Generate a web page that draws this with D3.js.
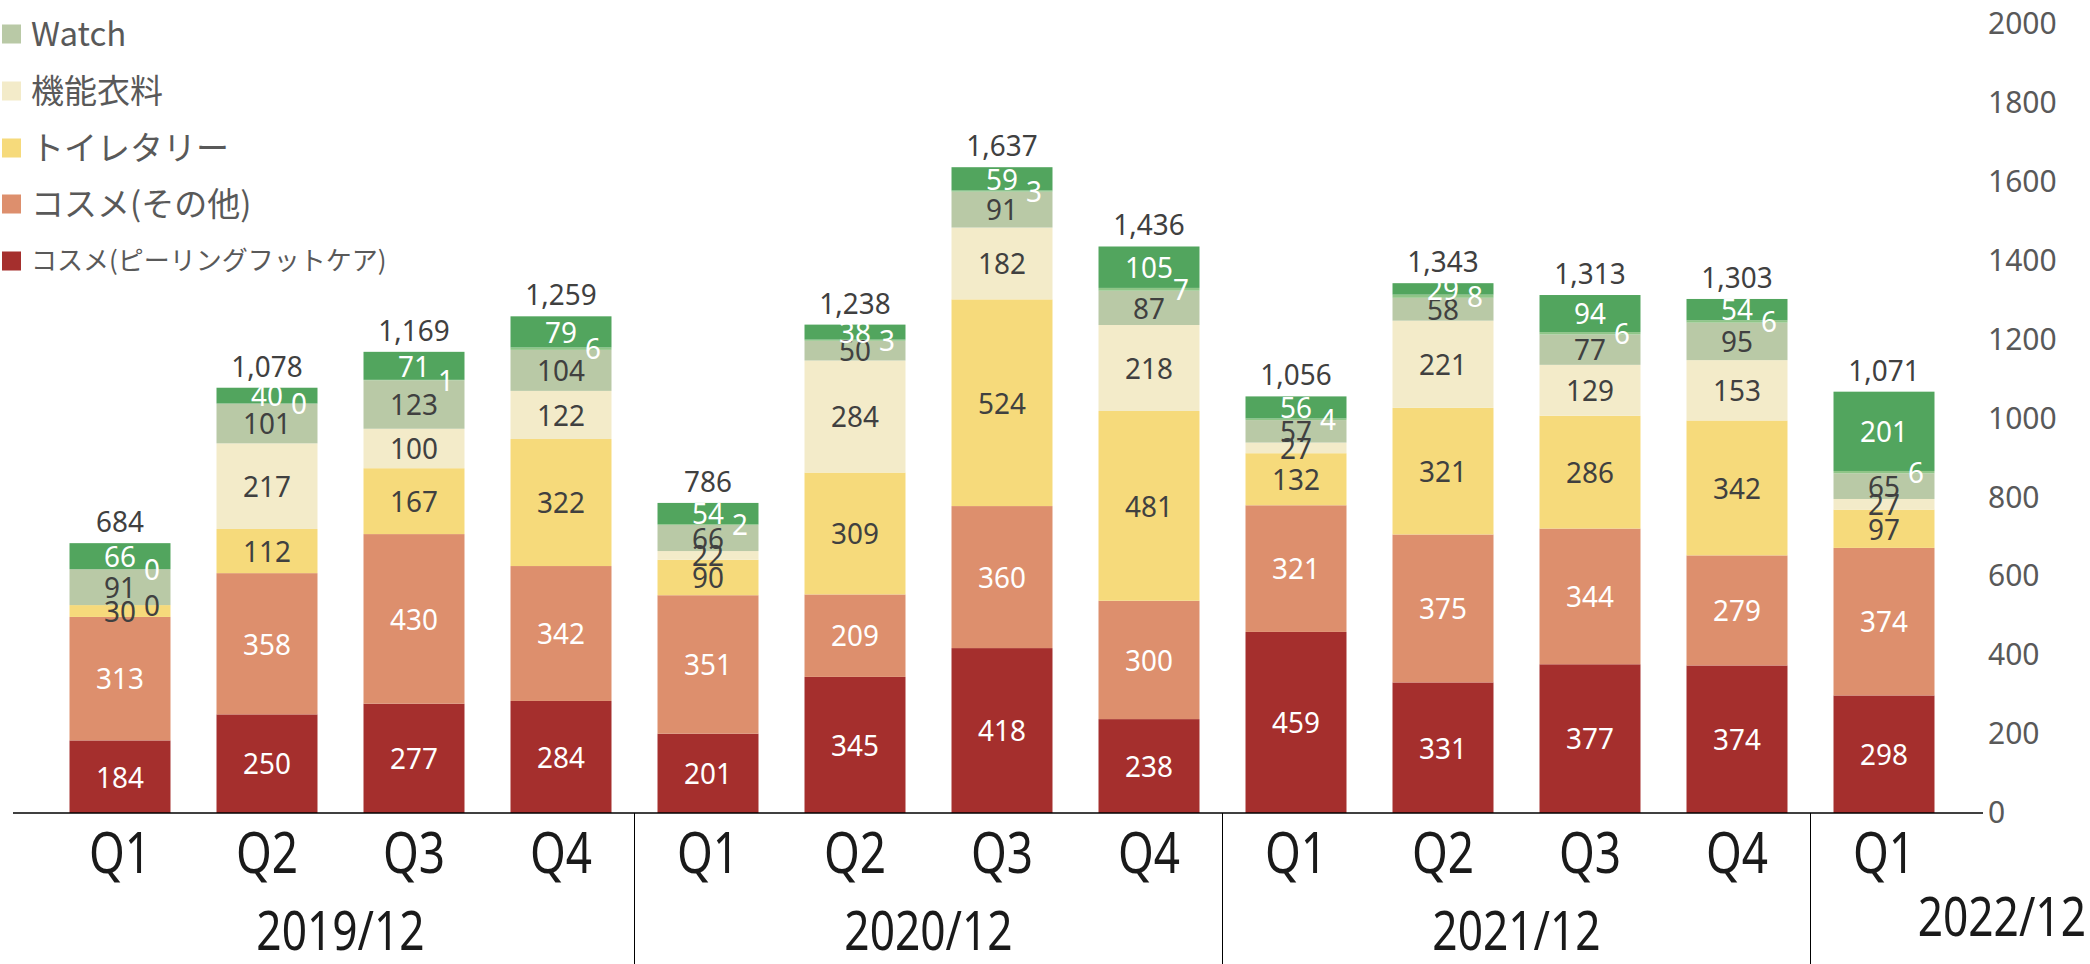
<!DOCTYPE html>
<html>
<head>
<meta charset="utf-8">
<script src="https://cdn.jsdelivr.net/npm/d3@7"></script>
<style>
  body { margin: 0; background: #fff; }
  svg { display: block; }
</style>
</head>
<body>
<div id="chart"></div>
<script>
// quarterly sales by segment, stacked

var quarters = ["Q1","Q2","Q3","Q4","Q1","Q2","Q3","Q4","Q1","Q2","Q3","Q4","Q1"];
var years = ["2019/12","2020/12","2021/12","2022/12"];
var yearSize = [4, 4, 4, 1];

var peeling    = [184,250,277,284,201,345,418,238,459,331,377,374,298];
var cosmeOther = [313,358,430,342,351,209,360,300,321,375,344,279,374];
var toiletry   = [30,112,167,322,90,309,524,481,132,321,286,342,97];
var clothing   = [0,217,100,122,22,284,182,218,27,221,129,153,27];
var watch      = [91,101,123,104,66,50,91,87,57,58,77,95,65];
var minor      = [0,0,1,6,2,3,3,7,4,8,6,6,6];
var topGreen   = [66,40,71,79,54,38,59,105,56,29,94,54,201];
var totals     = [684,1078,1169,1259,786,1238,1637,1436,1056,1343,1313,1303,1071];

var yTicks = [0,200,400,600,800,1000,1200,1400,1600,1800,2000];

var series = [
  {key: "peeling",  name: "コスメ(ピーリングフットケア)", values: peeling,    color: "#a52f2d", text: "#fff"},
  {key: "cosme",    name: "コスメ(その他)",              values: cosmeOther, color: "#dd8f6d", text: "#fff"},
  {key: "toiletry", name: "トイレタリー",                values: toiletry,   color: "#f6da7b", text: "#404040"},
  {key: "clothing", name: "機能衣料",                    values: clothing,   color: "#f3ebc9", text: "#404040"},
  {key: "watch",    name: "Watch",                       values: watch,      color: "#b9c9a6", text: "#404040"},
  {key: "minor",    name: null,                          values: minor,      color: "#8fc587", text: "#fff", side: true},
  {key: "top",      name: null,                          values: topGreen,   color: "#52a55e", text: "#fff"}
];

var W = 2090, H = 964;
var baseY = 813;

var table = quarters.map(function(q, i) {
  var row = {idx: i};
  series.forEach(function(s) { row[s.key] = s.values[i]; });
  return row;
});

var x = d3.scaleBand()
    .domain(d3.range(quarters.length))
    .range([46.5, 1957.5])
    .paddingInner(0.313)
    .paddingOuter(0.1565);

var y = d3.scaleLinear().domain([0, 2000]).range([baseY, 24]);

var stack = d3.stack().keys(series.map(function(s) { return s.key; }));
var stacked = stack(table);

var svg = d3.select("#chart").append("svg")
    .attr("width", W)
    .attr("height", H);

var font = "'Noto Sans', 'Open Sans', sans-serif";

// bars
var layers = svg.append("g").selectAll("g")
    .data(stacked)
    .enter().append("g")
    .attr("fill", function(d, i) { return series[i].color; });

layers.selectAll("rect")
    .data(function(d) { return d; })
    .enter().append("rect")
    .attr("x", function(d, i) { return x(i); })
    .attr("y", function(d) { return y(d[1]); })
    .attr("width", x.bandwidth())
    .attr("height", function(d) { return y(d[0]) - y(d[1]); });

// segment labels
stacked.forEach(function(layer, si) {
  var s = series[si];
  svg.append("g").selectAll("text")
      .data(layer)
      .enter().append("text")
      .attr("transform", function(d, i) {
        var v = d[1] - d[0];
        var cx = x(i) + x.bandwidth() / 2;
        if (s.side || v === 0) cx += 32;
        var cy = y((d[0] + d[1]) / 2);
        return "translate(" + cx + "," + cy + ") scale(0.93,1)";
      })
      .attr("dy", "0.36em")
      .attr("text-anchor", "middle")
      .attr("font-family", font)
      .attr("font-size", 30)
      .attr("fill", function(d) { return (d[1] - d[0] === 0 && !s.side) ? "#404040" : s.text; })
      .text(function(d) { return d[1] - d[0]; });
});

// totals
var fmt = d3.format(",");
svg.append("g").selectAll("text")
    .data(totals)
    .enter().append("text")
    .attr("transform", function(d, i) {
      var top = stacked[stacked.length - 1][i][1];
      return "translate(" + (x(i) + x.bandwidth() / 2) + "," + (y(top) - 11) + ") scale(0.93,1)";
    })
    .attr("text-anchor", "middle")
    .attr("font-family", font)
    .attr("font-size", 30)
    .attr("fill", "#404040")
    .text(function(d) { return fmt(d); });

// baseline
svg.append("line")
    .attr("x1", 13).attr("x2", 1983)
    .attr("y1", baseY).attr("y2", baseY)
    .attr("stroke", "#000")
    .attr("stroke-width", 1.5);

// right value axis
var yAxis = svg.append("g")
    .attr("transform", "translate(1983,0)")
    .call(d3.axisRight(y).tickValues(yTicks).tickFormat(d3.format("d")).tickSize(0).tickPadding(5));
yAxis.select(".domain").remove();
yAxis.selectAll("text")
    .attr("font-family", font)
    .attr("font-size", 30)
    .attr("fill", "#595959");

// quarter labels
svg.append("g").selectAll("text")
    .data(quarters)
    .enter().append("text")
    .attr("transform", function(d, i) {
      return "translate(" + (x(i) + x.bandwidth() / 2) + ",873) scale(0.82,1)";
    })
    .attr("text-anchor", "middle")
    .attr("font-family", font)
    .attr("font-size", 56)
    .attr("fill", "#1a1a1a")
    .text(function(d) { return d; });

// year groups and separators
var step = x.step();
var start = 46.5;
years.forEach(function(yr, gi) {
  var left = start;
  var right = start + yearSize[gi] * step;
  if (gi > 0) {
    svg.append("line")
        .attr("x1", left).attr("x2", left)
        .attr("y1", baseY).attr("y2", H)
        .attr("stroke", "#000")
        .attr("stroke-width", 1);
  }
  var last = gi === years.length - 1;
  svg.append("text")
      .attr("transform", last
        ? "translate(2086,936) scale(0.82,1)"
        : "translate(" + ((left + right) / 2) + ",950) scale(0.82,1)")
      .attr("text-anchor", last ? "end" : "middle")
      .attr("font-family", font)
      .attr("font-size", 54)
      .attr("fill", "#1a1a1a")
      .text(yr);
  start = right;
});

// legend
var legendItems = series.filter(function(s) { return s.name; }).reverse();
var legendY = [34, 91, 148, 204, 261];
var legend = svg.append("g").selectAll("g")
    .data(legendItems)
    .enter().append("g")
    .attr("transform", function(d, i) { return "translate(2," + legendY[i] + ")"; });

legend.append("rect")
    .attr("x", 0).attr("y", -9.5)
    .attr("width", 19).attr("height", 19)
    .attr("fill", function(d) { return d.color; });

legend.append("text")
    .attr("x", 29)
    .attr("y", 0)
    .attr("dy", "0.35em")
    .attr("font-family", "'Noto Sans CJK JP', 'Noto Sans', sans-serif")
    .attr("font-size", function(d, i) { return i === 4 ? 26 : 33; })
    .attr("fill", "#595959")
    .text(function(d) { return d.name; });
</script>
</body>
</html>
